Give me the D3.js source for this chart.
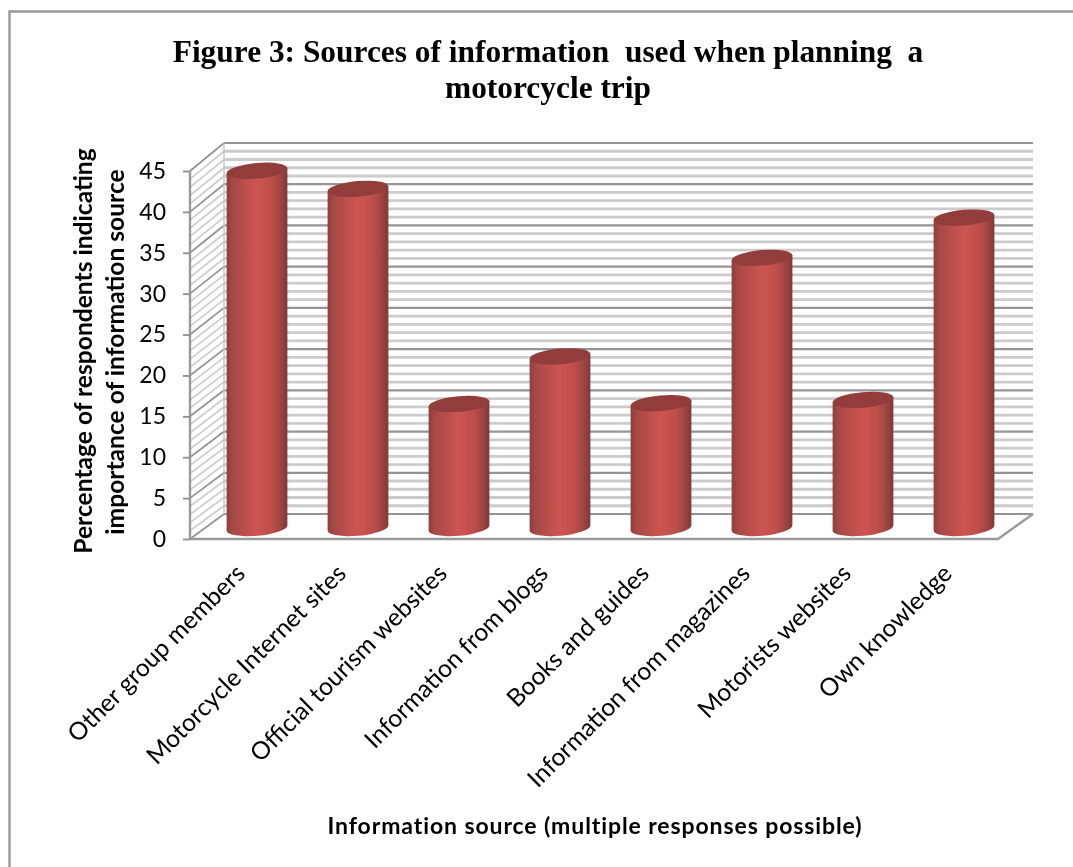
<!DOCTYPE html>
<html>
<head>
<meta charset="utf-8">
<script src="https://cdn.jsdelivr.net/npm/d3@7"></script>
<style>
  html, body { margin: 0; padding: 0; background: #fff; }
  svg { display: block; }
  text { fill: #000; }
</style>
</head>
<body>
<script>
// Chart values
const categories = ['Other group members', 'Motorcycle Internet sites', 'Official tourism websites',
  'Information from blogs', 'Books and guides', 'Information from magazines', 'Motorists websites', 'Own knowledge'];
const percentages = [43.5, 41.3, 15.1, 20.9, 15.2, 32.9, 15.6, 37.8];
const yTicks = [0, 5, 10, 15, 20, 25, 30, 35, 40, 45];
const minorTicks = d3.range(0, 46);
const titleLines = ['Figure 3: Sources of information  used when planning  a', 'motorcycle trip'];
const yTitleLines = ['Percentage of respondents indicating', 'importance of information source'];
const xTitle = 'Information source (multiple responses possible)';

const width = 1073, height = 867;
const svg = d3.select('body').append('svg').attr('width', width).attr('height', height);
const defs = svg.append('defs');

defs.append('filter').attr('id', 'soft').append('feGaussianBlur').attr('stdDeviation', 0.7);
defs.append('filter').attr('id', 'softText').append('feGaussianBlur').attr('stdDeviation', 0.35);

const grad = defs.append('linearGradient').attr('id', 'cyl');
[[0, '#8f3f3d'], [0.12, '#a94a47'], [0.5, '#cd5451'], [0.75, '#bd4e4b'], [0.92, '#96423f'], [1, '#7f3836']]
  .forEach(([o, c]) => grad.append('stop').attr('offset', o).attr('stop-color', c));

// Frame of the chart area (open on the right and at the bottom)
svg.append('path').attr('d', `M9.5,${height}V11.5H${width}`)
  .attr('fill', 'none').attr('stroke', '#999').attr('stroke-width', 2.4);

// Scales: front edge, back wall, and the bars which stand half way between them
const xFront = d3.scaleBand().domain(categories).range([190, 998]);
const yFront = d3.scaleLinear().domain([0, 45]).range([539, 171]);
const yBack = d3.scaleLinear().domain([0, 45]).range([514, 143]);
const yBar = d3.scaleLinear().domain([0, 45]).range([528, 158.5]);
const depth = 34;
const backLeft = 190 + depth, backRight = 998 + depth + 1;

const plot = svg.append('g').attr('filter', 'url(#soft)');

// Back wall grid
plot.append('g').selectAll('line').data(minorTicks).join('line')
  .attr('x1', backLeft).attr('x2', backRight)
  .attr('y1', d => yBack(d)).attr('y2', d => yBack(d))
  .attr('stroke', d => d % 5 === 0 ? '#949494' : '#cbcbcb')
  .attr('stroke-width', d => d % 5 === 0 ? 2.2 : 2.8);

// Side wall grid
plot.append('g').selectAll('line').data(minorTicks).join('line')
  .attr('x1', 190).attr('x2', backLeft)
  .attr('y1', d => yFront(d)).attr('y2', d => yBack(d))
  .attr('stroke', d => d % 5 === 0 ? '#949494' : '#cfcfcf')
  .attr('stroke-width', 1.8);

plot.append('line').attr('x1', backLeft).attr('x2', backLeft)
  .attr('y1', yBack(0)).attr('y2', yBack(45)).attr('stroke', '#c4c4c4').attr('stroke-width', 1.4);

// Floor edges
plot.append('path')
  .attr('d', `M190,${yFront(0)}V${yFront(45)}M190,${yFront(0)}H998L${backRight},${yBack(0)}`)
  .attr('fill', 'none').attr('stroke', '#9a9a9a').attr('stroke-width', 2.4);

// Cylinders
const rx = 30.5, ry = 7.8, tilt = -5;
const dx = rx * Math.cos(tilt * Math.PI / 180), dy = rx * Math.sin(tilt * Math.PI / 180);
const cx = d => xFront(d) + xFront.bandwidth() / 2 + depth / 2 - 0.5;

const bars = plot.append('g').selectAll('g').data(categories.map((c, i) => ({ c, v: percentages[i] }))).join('g');

bars.append('path')
  .attr('d', d => {
    const top = yBar(d.v), base = yBar(0), x = cx(d.c);
    return `M${x - dx},${top - dy}L${x - dx},${base - dy}A${rx},${ry} ${tilt} 0 0 ${x + dx},${base + dy}L${x + dx},${top + dy}Z`;
  })
  .attr('fill', 'url(#cyl)');

bars.append('ellipse')
  .attr('cx', 0).attr('cy', 0).attr('rx', rx).attr('ry', ry)
  .attr('transform', d => `translate(${cx(d.c)},${yBar(d.v)}) rotate(${tilt})`)
  .attr('fill', '#923d3b');

// Axes
const yAxis = svg.append('g').attr('filter', 'url(#softText)')
  .attr('transform', 'translate(190,0)')
  .call(d3.axisLeft(yFront).tickValues(yTicks).tickSize(7).tickPadding(17));
yAxis.select('.domain').remove();
yAxis.selectAll('line').attr('stroke', '#8e8e8e').attr('stroke-width', 1.8);
yAxis.selectAll('text').attr('font-size', 23).attr('font-family', 'Lato, sans-serif');

const xAxis = svg.append('g').attr('filter', 'url(#softText)')
  .attr('transform', `translate(0,${yFront(0)})`)
  .call(d3.axisBottom(xFront).tickSize(0));
xAxis.select('.domain').remove();
xAxis.selectAll('text')
  .attr('font-size', 24.6).attr('font-family', 'Lato, sans-serif')
  .attr('text-anchor', 'end')
  .attr('dy', 0).attr('y', 0).attr('x', 0)
  .attr('transform', 'translate(6,36) rotate(-45)');

// Titles
const titles = svg.append('g').attr('filter', 'url(#softText)');

titles.append('g').selectAll('text').data(titleLines).join('text')
  .attr('x', 548).attr('y', (d, i) => 62 + i * 36)
  .attr('text-anchor', 'middle')
  .attr('xml:space', 'preserve').style('white-space', 'pre')
  .attr('font-family', '"Liberation Serif", serif').attr('font-weight', 'bold').attr('font-size', 31.4)
  .text(d => d);

titles.append('g').selectAll('text').data(yTitleLines).join('text')
  .attr('transform', (d, i) => `translate(${92 + i * 32},${i ? 352 : 351}) rotate(-90)`)
  .attr('text-anchor', 'middle')
  .attr('font-family', 'Lato, sans-serif').attr('font-weight', 'bold').attr('font-size', 24.6)
  .text(d => d);

titles.append('text').attr('x', 595).attr('y', 834)
  .attr('text-anchor', 'middle')
  .attr('font-family', 'Lato, sans-serif').attr('font-weight', 'bold').attr('font-size', 23)
  .attr('letter-spacing', 0.9)
  .text(xTitle);
</script>
</body>
</html>
